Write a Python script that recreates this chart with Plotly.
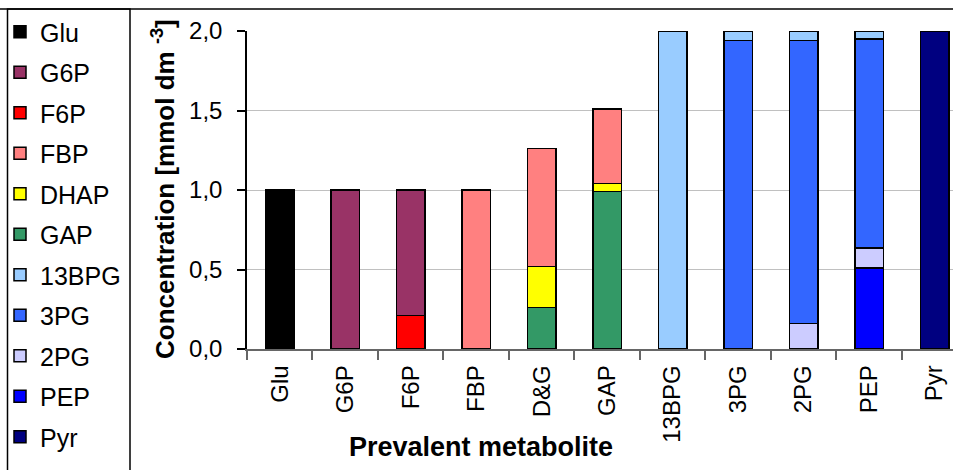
import plotly.graph_objects as go

categories = ["Glu", "G6P", "F6P", "FBP", "D&G", "GAP", "13BPG", "3PG", "2PG", "PEP", "Pyr"]

# stack order bottom -> top
series_names = ["Pyr", "PEP", "2PG", "3PG", "13BPG", "GAP", "DHAP", "FBP", "F6P", "G6P", "Glu"]
series_colors = ["#000080", "#0000FF", "#CCCCFF", "#3366FF", "#99CCFF", "#339966",
                 "#FFFF00", "#FF8080", "#FF0000", "#993366", "#000000"]

#            Glu  G6P  F6P   FBP  D&G   GAP   13BPG 3PG   2PG   PEP    Pyr
Pyr   = [0,   0,   0,    0,   0,    0,    0,    0,    0,    0,     2.0]
PEP   = [0,   0,   0,    0,   0,    0,    0,    0,    0,    0.51,  0]
PG2   = [0,   0,   0,    0,   0,    0,    0,    0,    0.16, 0.125, 0]
PG3   = [0,   0,   0,    0,   0,    0,    0,    1.94, 1.78, 1.315, 0]
BPG13 = [0,   0,   0,    0,   0,    0,    2.0,  0.06, 0.06, 0.05,  0]
GAP   = [0,   0,   0,    0,   0.26, 0.99, 0,    0,    0,    0,     0]
DHAP  = [0,   0,   0,    0,   0.26, 0.05, 0,    0,    0,    0,     0]
FBP   = [0,   0,   0,    1.0, 0.74, 0.47, 0,    0,    0,    0,     0]
F6P   = [0,   0,   0.21, 0,   0,    0,    0,    0,    0,    0,     0]
G6P   = [0,   1.0, 0.79, 0,   0,    0,    0,    0,    0,    0,     0]
Glu   = [1.0, 0,   0,    0,   0,    0,    0,    0,    0,    0,     0]

series_values = [Pyr, PEP, PG2, PG3, BPG13, GAP, DHAP, FBP, F6P, G6P, Glu]

y_tickvals = [0.0, 0.5, 1.0, 1.5, 2.0]
y_ticktext = ["0,0", "0,5", "1,0", "1,5", "2,0"]

FONT = "Liberation Sans, Arial, sans-serif"

fig = go.Figure()
n = len(series_names)
for i, (name, color, vals) in enumerate(zip(series_names, series_colors, series_values)):
    fig.add_trace(go.Bar(
        x=categories, y=vals, name=name, legendgroup=name,
        legendrank=n - i,
        marker=dict(color=color, line=dict(color="#000000", width=1.5)),
        cliponaxis=False,
    ))

W, H = 953, 470
L, R, T, B = 247, 0, 31, 121
pw, ph = W - L - R, H - T - B


def px(x):
    return (x - L) / pw


def py(y):
    return (H - B - y) / ph


fig.update_layout(
    width=W, height=H,
    margin=dict(l=L, r=R, t=T, b=B, pad=0),
    barmode="stack",
    bargap=0.56,
    plot_bgcolor="white",
    paper_bgcolor="white",
    font=dict(family=FONT, color="black", size=21),
    showlegend=True,
    legend=dict(
        xref="container", yref="container",
        x=0, y=1 - 9 / H, xanchor="left", yanchor="top",
        traceorder="grouped",
        font=dict(family=FONT, size=25, color="black"),
        tracegroupgap=5,
        bgcolor="rgba(0,0,0,0)",
        itemwidth=30,
        maxheight=2000,
    ),
    xaxis=dict(
        range=[-0.5, 10.28],
        showline=True, linecolor="#666666", linewidth=1.5,
        ticks="outside", tickson="boundaries", ticklen=9, tickcolor="#666666", tickwidth=1.5,
        tickangle=-90,
        ticklabelstandoff=5,
        tickfont=dict(family=FONT, size=24, color="black"),
        showgrid=False,
        fixedrange=True,
    ),
    yaxis=dict(
        range=[0, 2.0],
        tickvals=y_tickvals, ticktext=y_ticktext,
        showline=True, linecolor="black", linewidth=1.5,
        ticks="outside", ticklen=8, tickcolor="black", tickwidth=1.5,
        ticklabelstandoff=10,
        tickfont=dict(family=FONT, size=24, color="black"),
        showgrid=True, gridcolor="#c0c0c0", gridwidth=1,
        zeroline=False,
    ),
    shapes=[
        dict(type="line", xref="paper", yref="paper",
             x0=px(0), x1=px(W + 5), y0=py(9), y1=py(9),
             line=dict(color="black", width=1.5)),
        dict(type="rect", xref="paper", yref="paper",
             x0=px(7.5), x1=px(130), y0=py(9), y1=py(H + 10),
             line=dict(color="black", width=1.5), fillcolor="rgba(0,0,0,0)"),
    ],
    annotations=[
        dict(text="Concentration [mmol dm <sup>-3</sup>]", xref="paper", yref="paper",
             x=px(163), y=py(189), textangle=-90, showarrow=False,
             xanchor="center", yanchor="middle",
             font=dict(family=FONT, size=26, color="black", weight="bold")),
        dict(text="Prevalent metabolite", xref="paper", yref="paper",
             x=px(481), y=py(447), showarrow=False,
             xanchor="center", yanchor="middle",
             font=dict(family=FONT, size=27, color="black", weight="bold")),
    ],
)

fig.write_html("out.html", config={"displayModeBar": False},
               post_script="document.body.style.margin='0';")
